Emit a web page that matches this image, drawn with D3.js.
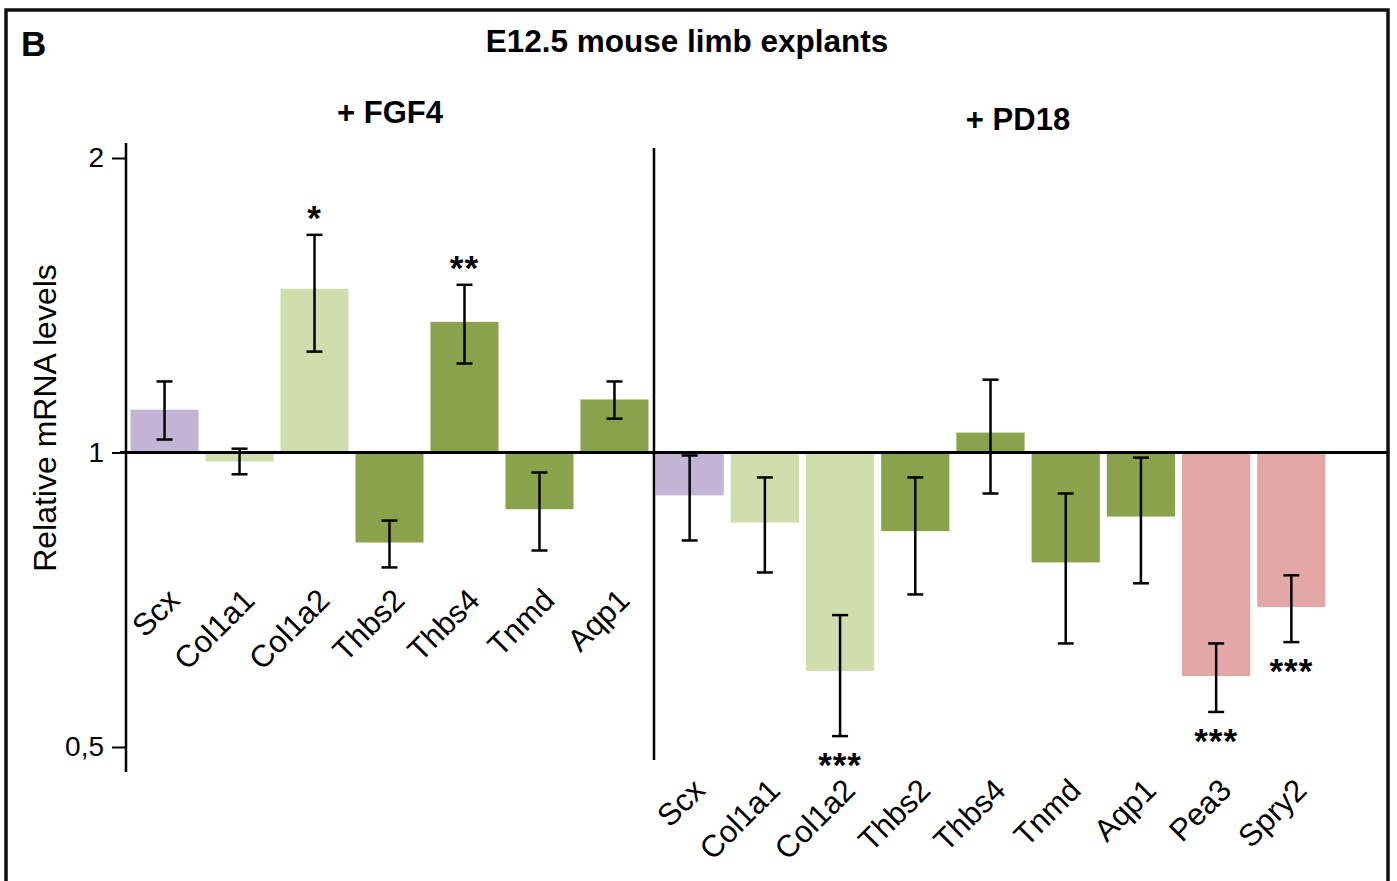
<!DOCTYPE html>
<html>
<head>
<meta charset="utf-8">
<script src="https://cdn.jsdelivr.net/npm/d3@7"></script>
<style>
  body { margin: 0; background: #fff; }
  svg text { font-family: "Liberation Sans", Arial, Helvetica, sans-serif; fill: #000; }
</style>
</head>
<body>
<div id="chart"></div>
<script>
// + FGF4 panel
var fgfGenes = ["Scx", "Col1a1", "Col1a2", "Thbs2", "Thbs4", "Tnmd", "Aqp1"];
var fgfMean  = [1.106, 0.979, 1.470, 0.809, 1.360, 0.875, 1.133];
var fgfLow   = [1.031, 0.950, 1.268, 0.763, 1.233, 0.794, 1.083];
var fgfHigh  = [1.182, 1.009, 1.669, 0.852, 1.484, 0.954, 1.182];
var fgfStars = ["", "", "*", "", "**", "", ""];

// + PD18 panel
var pdGenes = ["Scx", "Col1a1", "Col1a2", "Thbs2", "Thbs4", "Tnmd", "Aqp1", "Pea3", "Spry2"];
var pdMean  = [0.904, 0.848, 0.598, 0.831, 1.048, 0.772, 0.860, 0.591, 0.695];
var pdLow   = [0.813, 0.754, 0.513, 0.716, 0.908, 0.638, 0.735, 0.543, 0.640];
var pdHigh  = [0.993, 0.943, 0.682, 0.943, 1.187, 0.908, 0.988, 0.638, 0.749];
var pdStars = ["", "", "***", "", "", "", "", "***", "***"];

var yTicks = [0.5, 1, 2];

var W = 1397, H = 881;

var color = d3.scaleOrdinal()
  .domain(["Scx", "Col1a1", "Col1a2", "Thbs2", "Thbs4", "Tnmd", "Aqp1", "Pea3", "Spry2"])
  .range(["#c1b4d4", "#cfdeac", "#cfdeac", "#8aa24b", "#8aa24b", "#8aa24b", "#8aa24b", "#e3a7a7", "#e3a7a7"]);

var svg = d3.select("#chart").append("svg")
  .attr("width", W)
  .attr("height", H);

// frame
svg.append("rect")
  .attr("x", 6).attr("y", 10)
  .attr("width", 1382).attr("height", 900)
  .attr("fill", "none")
  .attr("stroke", "#111")
  .attr("stroke-width", 3.5);

svg.append("text")
  .attr("x", 21).attr("y", 56)
  .style("font-size", "35px").style("font-weight", "bold")
  .text("B");

svg.append("text")
  .attr("x", 687).attr("y", 52)
  .attr("text-anchor", "middle")
  .style("font-size", "31.5px").style("font-weight", "bold")
  .text("E12.5 mouse limb explants");

var y = d3.scaleLog().base(2)
  .domain([0.5, 2])
  .range([747, 158]);

var xL = d3.scaleBand().domain(fgfGenes).range([127, 652]).paddingInner(0.093).paddingOuter(0.047);
var xR = d3.scaleBand().domain(pdGenes).range([652, 1329]).paddingInner(0.093).paddingOuter(0.047);

// y axis
var yAxis = svg.append("g")
  .attr("transform", "translate(126,0)")
  .call(d3.axisLeft(y).tickValues(yTicks).tickSize(14).tickPadding(8)
    .tickFormat(d => d == 0.5 ? "0,5" : d3.format("d")(d)));
yAxis.select(".domain").remove();
yAxis.selectAll(".tick line").attr("stroke", "#000").attr("stroke-width", 2);
yAxis.selectAll(".tick text").style("font-size", "28px").attr("fill", "#000");

svg.append("text")
  .attr("transform", "translate(56,418) rotate(-90)")
  .attr("text-anchor", "middle")
  .style("font-size", "32px")
  .text("Relative mRNA levels");

function panel(x, genes, mean, lo, hi, stars, labelY) {
  var g = svg.append("g");
  var n = genes.map((d, i) => ({gene: d, v: mean[i], lo: lo[i], hi: hi[i], s: stars[i]}));

  g.selectAll(".bar")
    .data(n)
    .enter().append("rect")
    .attr("class", "bar")
    .attr("x", d => x(d.gene))
    .attr("width", x.bandwidth())
    .attr("y", d => Math.min(y(d.v), y(1)))
    .attr("height", d => Math.abs(y(d.v) - y(1)))
    .attr("fill", d => color(d.gene));

  var cx = d => x(d.gene) + x.bandwidth() / 2;

  g.selectAll(".err")
    .data(n)
    .enter().append("line")
    .attr("x1", cx).attr("x2", cx)
    .attr("y1", d => y(d.lo)).attr("y2", d => y(d.hi))
    .attr("stroke", "#000").attr("stroke-width", 2.5);

  ["lo", "hi"].forEach(function(k) {
    g.selectAll(".cap" + k)
      .data(n)
      .enter().append("line")
      .attr("x1", d => cx(d) - 8).attr("x2", d => cx(d) + 8)
      .attr("y1", d => y(d[k])).attr("y2", d => y(d[k]))
      .attr("stroke", "#000").attr("stroke-width", 2.5);
  });

  // significance stars: above the bar if up, below if down
  g.selectAll(".star")
    .data(n.filter(d => d.s != ""))
    .enter().append("text")
    .attr("x", cx)
    .attr("y", d => d.v > 1 ? y(d.hi) - 24 + 19 : y(d.lo) + 24 + 17)
    .attr("text-anchor", "middle")
    .style("font-size", "35px").style("font-weight", "bold")
    .style("letter-spacing", "1px")
    .text(d => d.s);

  g.selectAll(".lab")
    .data(n)
    .enter().append("text")
    .attr("transform", d => "translate(" + (cx(d) + 17) + "," + labelY + ") rotate(-45)")
    .attr("text-anchor", "end")
    .style("font-size", "31px")
    .text(d => d.gene);
}

panel(xL, fgfGenes, fgfMean, fgfLow, fgfHigh, fgfStars, 602);
panel(xR, pdGenes, pdMean, pdLow, pdHigh, pdStars, 792);

// baseline at 1, axis line and divider
svg.append("line")
  .attr("x1", 120).attr("x2", 1388)
  .attr("y1", y(1)).attr("y2", y(1))
  .attr("stroke", "#000").attr("stroke-width", 3);
svg.append("line")
  .attr("x1", 126).attr("x2", 126)
  .attr("y1", y(2) - 15).attr("y2", y(0.5) + 25)
  .attr("stroke", "#000").attr("stroke-width", 2.5);
svg.append("line")
  .attr("x1", 654).attr("x2", 654)
  .attr("y1", y(2) - 10).attr("y2", y(0.5) + 13)
  .attr("stroke", "#000").attr("stroke-width", 2.5);

svg.append("text")
  .attr("x", 390).attr("y", 123)
  .attr("text-anchor", "middle")
  .style("font-size", "31px").style("font-weight", "bold")
  .text("+ FGF4");
svg.append("text")
  .attr("x", 1018).attr("y", 130)
  .attr("text-anchor", "middle")
  .style("font-size", "31px").style("font-weight", "bold")
  .text("+ PD18");
</script>
</body>
</html>
